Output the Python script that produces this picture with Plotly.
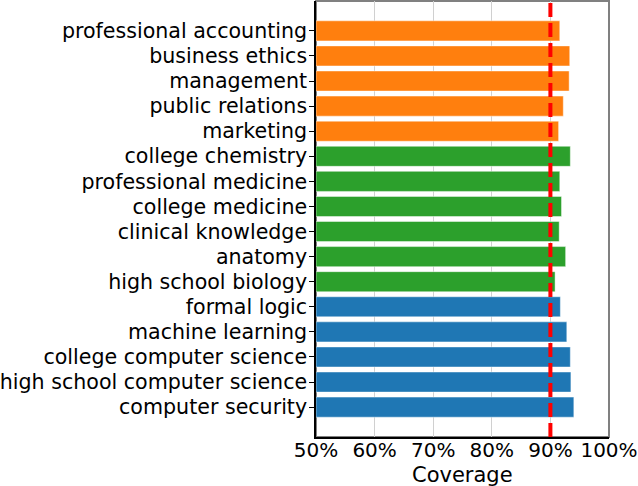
import plotly.graph_objects as go

subjects = ["professional accounting", "business ethics", "management", "public relations",
            "marketing", "college chemistry", "professional medicine", "college medicine",
            "clinical knowledge", "anatomy", "high school biology", "formal logic",
            "machine learning", "college computer science", "high school computer science",
            "computer security"]
coverage = [91.6, 93.3, 93.2, 92.2, 91.4, 93.4, 91.6, 91.9, 91.5, 92.6, 90.8,
            91.7, 92.8, 93.4, 93.5, 94.0]
group = ["business"] * 5 + ["medical"] * 6 + ["computer"] * 5
group_colors = {"business": "#ff7f0e", "medical": "#2ca02c", "computer": "#1f77b4"}
x_ticks = [50, 60, 70, 80, 90, 100]
target = 90
x_start = 50

fig = go.Figure()
fig.add_trace(go.Bar(
    y=list(range(len(subjects))),
    x=[c - x_start for c in coverage],
    base=x_start,
    orientation="h",
    width=0.8,
    marker=dict(color=[group_colors[g] for g in group],
                line=dict(color="rgba(255,255,255,0.45)", width=1)),
    showlegend=False,
    hoverinfo="skip",
))

# frame (top/right grey)
fig.add_shape(type="rect", xref="paper", yref="paper", x0=0, x1=1, y0=0, y1=1,
              line=dict(color="#808080", width=2), layer="below")
fig.add_shape(type="line", xref="x", yref="paper", x0=target, x1=target, y0=0, y1=1,
              line=dict(color="#ff0000", width=4, dash="14px,6px"))
fig.add_annotation(text="Coverage", xref="paper", yref="paper", x=0.5, y=0,
                   xanchor="center", yanchor="top", yshift=-24, showarrow=False,
                   font=dict(size=21))

fig.update_layout(
    width=638, height=486,
    margin=dict(l=316, r=29, t=1, b=49),
    plot_bgcolor="white", paper_bgcolor="white",
    font=dict(family="DejaVu Sans", size=21, color="black"),
)
fig.update_xaxes(
    range=[50, 100], tickvals=x_ticks, ticktext=[f"{v}%" for v in x_ticks],
    tickfont=dict(size=20), ticklabeloverflow="allow", ticklabelstandoff=-6,
    showgrid=True, gridcolor="#d0d0d0", gridwidth=1,
    showline=True, linecolor="black", linewidth=1.5,
    ticks="", zeroline=False, automargin=False,
)
fig.update_yaxes(
    range=[len(subjects) - 1 + 1.19, -1.19],
    tickvals=list(range(len(subjects))), ticktext=subjects,
    tickfont=dict(size=20.6), ticklabeloverflow="allow", ticklabelstandoff=-2,
    showgrid=False, showline=True, linecolor="black", linewidth=1.5,
    ticks="outside", ticklen=5, tickcolor="black", zeroline=False, automargin=False,
)
fig.write_html("out.html", config={"displayModeBar": False},
               post_script="document.body.style.margin='0';")
